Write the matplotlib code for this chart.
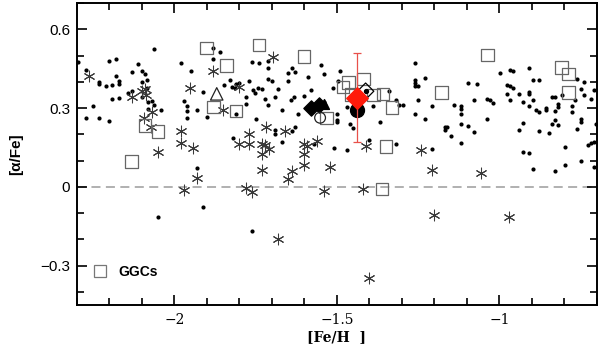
import matplotlib
matplotlib.use("Agg")
import matplotlib.pyplot as plt
from matplotlib.lines import Line2D
from matplotlib.ticker import MultipleLocator

# ---- data ----
dots_feh = [-2.297, -2.271, -2.271, -2.251, -2.232, -2.232, -2.232, -2.211, -2.202, -2.202,
            -2.191, -2.191, -2.181, -2.181, -2.172, -2.172, -2.172, -2.142, -2.131, -2.131,
            -2.112, -2.101, -2.100, -2.090, -2.100, -2.085, -2.085, -2.080, -2.069, -2.063,
            -2.081, -2.063, -2.043, -1.981, -1.972, -1.961, -1.961, -1.961, -1.950, -1.931,
            -1.931, -1.911, -1.900, -1.880, -1.859, -1.880, -1.849, -1.829, -1.823, -1.814,
            -1.811, -1.800, -1.770, -1.760, -1.740, -1.711, -1.711, -1.639, -1.650, -1.629,
            -1.590, -1.549, -1.540, -1.491, -1.650, -1.711, -1.701, -1.759, -1.742, -1.730,
            -1.752, -1.680, -1.691, -1.722, -1.781, -1.781, -1.711, -1.631, -1.641, -1.601,
            -1.580, -1.540, -1.670, -1.619, -1.811, -1.750, -1.501, -1.501, -1.511, -1.496,
            -1.470, -1.460, -1.450, -1.389, -1.368, -1.340, -1.319, -1.309, -1.821, -1.691,
            -1.691, -1.670, -1.629, -1.639, -1.570, -1.508, -1.470, -1.401, -1.319, -1.499,
            -1.911, -1.761, -2.050,
            -1.297, -1.260, -1.260, -1.260, -1.260, -1.250, -1.229, -1.250, -1.260, -1.229,
            -1.209, -1.209, -1.168, -1.161, -1.168, -1.149, -1.139, -1.118, -1.118, -1.118,
            -1.118, -1.118, -1.098, -1.098, -1.078, -1.078, -1.068, -1.037, -1.029, -1.019,
            -1.037, -0.998, -0.968, -0.958, -0.978, -0.968, -0.958, -0.978, -0.968, -0.939,
            -0.929, -0.929, -0.939, -0.929, -0.908, -0.908, -0.908, -0.908, -0.908, -0.898,
            -0.878, -0.898, -0.888, -0.877, -0.877, -0.898, -0.858, -0.858, -0.848, -0.838,
            -0.829, -0.829, -0.829, -0.819, -0.819, -0.819, -0.829, -0.809, -0.799, -0.799,
            -0.778, -0.778, -0.768, -0.760, -0.749, -0.739, -0.739, -0.760, -0.749, -0.749,
            -0.728, -0.718, -0.708, -0.718, -0.708, -0.708, -0.702, -0.748, -0.839]
dots_afe = [0.475, 0.446, 0.261, 0.309, 0.400, 0.393, 0.263, 0.383, 0.481, 0.250,
            0.387, 0.336, 0.488, 0.423, 0.404, 0.391, 0.339, 0.357, 0.439, 0.364,
            0.469, 0.442, 0.399, 0.429, 0.342, 0.406, 0.376, 0.324, 0.326, 0.311,
            0.298, 0.524, 0.292, 0.471, 0.328, 0.307, 0.288, 0.261, 0.440, 0.294,
            0.070, 0.362, 0.266, 0.528, 0.514, 0.488, 0.387, 0.406, 0.379, 0.378,
            0.390, 0.396, 0.403, 0.476, 0.470, 0.479, 0.451, 0.451, 0.434, 0.438,
            0.419, 0.462, 0.429, 0.440, 0.403, 0.409, 0.402, 0.368, 0.378, 0.371,
            0.358, 0.371, 0.342, 0.334, 0.342, 0.317, 0.311, 0.342, 0.332, 0.345,
            0.368, 0.323, 0.294, 0.279, 0.276, 0.257, 0.276, 0.256, 0.378, 0.402,
            0.304, 0.238, 0.224, 0.307, 0.247, 0.364, 0.330, 0.313, 0.186, 0.215,
            0.203, 0.170, 0.226, 0.213, 0.164, 0.149, 0.139, 0.180, 0.162, 0.247,
            -0.075, -0.169, -0.113,
            0.311, 0.470, 0.406, 0.394, 0.383, 0.383, 0.416, 0.332, 0.276, 0.260,
            0.306, 0.145, 0.228, 0.226, 0.218, 0.192, 0.310, 0.307, 0.298, 0.279,
            0.240, 0.167, 0.394, 0.231, 0.330, 0.209, 0.391, 0.336, 0.330, 0.318,
            0.260, 0.432, 0.444, 0.442, 0.387, 0.383, 0.378, 0.355, 0.332, 0.355,
            0.324, 0.242, 0.215, 0.132, 0.129, 0.451, 0.362, 0.353, 0.307, 0.406,
            0.406, 0.330, 0.292, 0.285, 0.213, 0.069, 0.302, 0.292, 0.205, 0.342,
            0.342, 0.289, 0.256, 0.314, 0.304, 0.234, 0.059, 0.349, 0.152, 0.082,
            0.307, 0.285, 0.330, 0.410, 0.371, 0.400, 0.349, 0.222, 0.260, 0.248,
            0.158, 0.168, 0.171, 0.333, 0.368, 0.075, 0.241, 0.099, 0.238]

star_feh = [-2.263, -2.131, -2.101, -2.090, -2.087, -2.094, -2.070, -2.072, -2.052, -1.981,
            -1.981, -1.951, -1.942, -1.931, -1.971, -1.880, -1.800, -1.851, -1.770, -1.800,
            -1.770, -1.780, -1.762, -1.719, -1.731, -1.721, -1.709, -1.731, -1.697, -1.660,
            -1.731, -1.639, -1.650, -1.682, -1.602, -1.592, -1.602, -1.602, -1.562, -1.522,
            -1.540, -1.411, -1.421, -1.400, -1.240, -1.209, -1.201, -1.058, -0.970]
star_afe = [0.421, 0.341, 0.365, 0.372, 0.349, 0.261, 0.285, 0.227, 0.132, 0.213,
            0.167, 0.378, 0.149, 0.032, -0.011, 0.442, 0.381, 0.294, 0.203, 0.164,
            0.162, -0.005, -0.020, 0.226, 0.162, 0.158, 0.145, 0.126, 0.495, 0.213,
            0.065, 0.059, 0.028, -0.198, 0.162, 0.155, 0.126, 0.083, 0.174, 0.075,
            -0.014, 0.156, -0.010, -0.347, 0.142, 0.065, -0.107, 0.053, -0.116]

ggc_feh = [-2.091, -2.050, -2.132, -1.901, -1.740, -1.840, -1.601, -1.880, -1.811, -1.532,
           -1.481, -1.465, -1.419, -1.388, -1.359, -1.330, -1.350, -1.361, -1.037, -1.178,
           -0.809, -0.788, -0.788, -1.457]
ggc_afe = [0.233, 0.211, 0.097, 0.529, 0.539, 0.462, 0.497, 0.303, 0.288, 0.262,
           0.380, 0.397, 0.410, 0.349, 0.353, 0.302, 0.154, -0.009, 0.502, 0.359,
           0.455, 0.429, 0.359, 0.351]

fdiam_feh = [-1.580, -1.556]
fdiam_afe = [0.299, 0.311]
ftri_feh, ftri_afe = [-1.540], [0.315]
ocirc_feh, ocirc_afe = [-1.552], [0.263]
otri_feh, otri_afe = [-1.870], [0.354]
odiam_feh, odiam_afe = [-1.412], [0.364]
bigdot_feh, bigdot_afe = [-1.439], [0.292]
red_feh, red_afe, red_err = [-1.439], [0.340], [0.17]

# ---- figure ----
fig = plt.figure(figsize=(6.0, 3.52), dpi=100)
ax = fig.add_axes([0.1283, 0.1335, 0.8667, 0.858])

ax.axhline(0, color='#aaaaaa', lw=1.3, ls=(0, (5, 3)), zorder=1)

ax.scatter(dots_feh, dots_afe, s=9, c='black', linewidths=0, zorder=3)
ax.scatter(star_feh, star_afe, s=60, marker=(6, 2, 0), c='#3a3a3a', linewidths=0.75, zorder=4)
ax.scatter(ggc_feh, ggc_afe, s=80, marker='s', facecolors='none', edgecolors='#666666',
           linewidths=0.9, zorder=4)
ax.scatter(fdiam_feh, fdiam_afe, s=60, marker='D', c='black', zorder=5)
ax.scatter(ftri_feh, ftri_afe, s=50, marker='^', c='black', zorder=5)
ax.scatter(ocirc_feh, ocirc_afe, s=60, marker='o', facecolors='none', edgecolors='#222222',
           linewidths=0.9, zorder=5)
ax.scatter(otri_feh, otri_afe, s=80, marker='^', facecolors='none', edgecolors='#222222',
           linewidths=0.9, zorder=5)
ax.scatter(odiam_feh, odiam_afe, s=70, marker='D', facecolors='none', edgecolors='black',
           linewidths=0.9, zorder=5)
ax.scatter(odiam_feh, odiam_afe, s=8, c='black', zorder=6)
ax.scatter(bigdot_feh, bigdot_afe, s=100, marker='o', c='black', zorder=6)
ax.errorbar(red_feh, red_afe, yerr=red_err, fmt='none', ecolor='#e8504a', elinewidth=0.9,
            capsize=3, capthick=0.9, zorder=6)
ax.scatter(red_feh, red_afe, s=120, marker='D', c='#ff1a0a', edgecolors='#ff1a0a', zorder=7)

ax.set_xlim(-2.3, -0.7)
ax.set_ylim(-0.45, 0.70)
ax.xaxis.set_major_locator(MultipleLocator(0.5))
ax.xaxis.set_minor_locator(MultipleLocator(0.1))
ax.yaxis.set_major_locator(MultipleLocator(0.3))
ax.yaxis.set_minor_locator(MultipleLocator(0.1))
ax.tick_params(which='both', direction='in', top=True, right=True, width=1.2)
ax.tick_params(which='major', length=7)
ax.tick_params(which='minor', length=5)
for s in ax.spines.values():
    s.set_linewidth(1.4)

ax.set_xticks([-2, -1.5, -1])
ax.set_xticklabels(['\u22122', '\u22121.5', '\u22121'], family='DejaVu Serif', fontsize=10)
ax.set_yticks([-0.3, 0, 0.3, 0.6])
ax.set_yticklabels(['\u22120.3', '0', '0.3', '0.6'], family='Liberation Sans', fontsize=11)
ax.tick_params(axis='x', pad=6)
ax.tick_params(axis='y', pad=5)

ax.set_xlabel('[Fe/H  ]', family='DejaVu Serif', fontweight='bold', fontsize=10, labelpad=2)
ax.set_ylabel('[\u03b1/Fe]', family='Liberation Sans', fontweight='bold', fontsize=11, labelpad=12)

handle = Line2D([], [], ls='none', marker='s', markersize=8, markerfacecolor='none',
                markeredgecolor='#777777', markeredgewidth=0.9)
leg = ax.legend([handle], ['GGCs'], loc='center left', bbox_to_anchor=(0.0, 0.11),
                frameon=False, handletextpad=0.6, handlelength=1.5,
                prop={'family': 'Liberation Sans', 'weight': 'bold', 'size': 10})

fig.savefig('out.png', dpi=100)
